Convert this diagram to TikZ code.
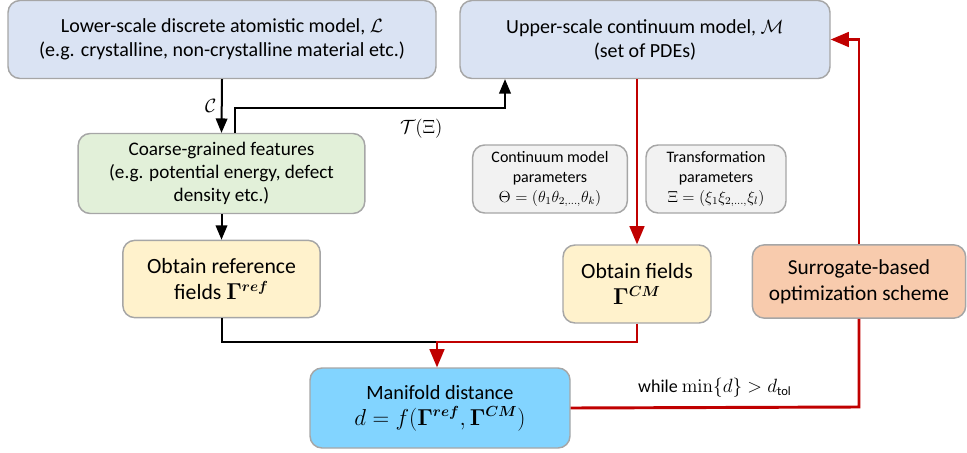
\documentclass[tikz,border=0pt]{standalone}
\usepackage{amsmath}
\usepackage[no-math]{fontspec}
\setmainfont{Carlito}
\usetikzlibrary{arrows}
\definecolor{modelblue}{HTML}{DAE3F3}
\definecolor{featgreen}{HTML}{E2F0D9}
\definecolor{fieldyellow}{HTML}{FFF2CC}
\definecolor{paramgray}{HTML}{F2F2F2}
\definecolor{surrorange}{HTML}{F8CBAD}
\definecolor{distblue}{HTML}{82D4FF}
\definecolor{loopred}{HTML}{C00000}
\definecolor{edgegray}{HTML}{A6A6A6}

\begin{document}
\begin{tikzpicture}[x=0.75pt,y=-0.75pt,>=triangle 45,
    box/.style={draw=edgegray,line width=1.1pt,rounded corners=9pt,align=center,inner sep=2pt,
        font=\fontsize{15}{18}\selectfont},
    parambox/.style={box,fill=paramgray,minimum width=116pt,minimum height=51pt,
        font=\fontsize{12}{15}\selectfont},
    link/.style={->,line width=1.5pt},
    redlink/.style={->,line width=2.2pt,color=loopred}]
    \useasboundingbox (0,0) rectangle (967,453);
    % models
    \node[box,fill=modelblue,minimum width=321pt,minimum height=58.5pt](lower)at(222, 39.5){Lower-scale discrete atomistic model, $\mathcal{L}$\\(e.g. crystalline, non-crystalline material etc.)};
    \node[box,fill=modelblue,minimum width=277.5pt,minimum height=58.5pt](upper)at(645, 39.5){Upper-scale continuum model, $\mathcal{M}$\\(set of PDEs)};
    % features and fields
    \node[box,fill=featgreen,minimum width=215pt,minimum height=60pt,font=\fontsize{14.4}{17}\selectfont](coarse)at(221.5, 173.5){Coarse-grained features\\(e.g. potential energy, defect\\density etc.)};
    \node[box,fill=fieldyellow,minimum width=148pt,minimum height=58pt,font=\fontsize{16.3}{19.5}\selectfont](reffields)at(221.5, 279){Obtain reference\\fields $\mathbf{\Gamma}^{\boldsymbol{ref}}$};
    \node[parambox](cmparams)at(550, 179){Continuum model\\parameters\\$\Theta=(\theta_1\theta_{2,\ldots,}\theta_k)$};
    \node[parambox,minimum width=105pt](trparams)at(716, 179){Transformation\\parameters\\$\Xi=(\xi_1\xi_{2,\ldots,}\xi_l)$};
    \node[box,fill=fieldyellow,minimum width=111pt,minimum height=58.5pt,font=\fontsize{16.3}{19.5}\selectfont](cmfields)at(637, 284){Obtain fields\\$\mathbf{\Gamma}^{\boldsymbol{CM}}$};
    \node[box,fill=surrorange,minimum width=160pt,minimum height=55pt,font=\fontsize{16}{19.5}\selectfont](surrogate)at(859, 281.5){Surrogate-based\\optimization scheme};
    \node[box,fill=distblue,minimum width=195pt,minimum height=60pt,font=\fontsize{15.2}{19.5}\selectfont](manifold)at(440, 408){Manifold distance\\{\fontsize{16}{19}\selectfont$d=f(\mathbf{\Gamma}^{\boldsymbol{ref}},\mathbf{\Gamma}^{\boldsymbol{CM}})$}};
    % turning points
    \coordinate(tleft)at(235, 108);
    \coordinate(tright)at(505, 108);
    \coordinate(join)at(437, 342);
    \coordinate(loopturn)at(859, 407);
    % black links
    \draw[link](lower.south) -- node[left,font=\fontsize{14}{17}\selectfont]{$\mathcal{C}$} (coarse.north);
    \draw[link](coarse.north -| tleft) -- (tleft) -- node[pos=0.69,below=4pt,font=\fontsize{14}{17}\selectfont]{$\mathcal{T}(\Xi)$} (tright) -- (upper.south -| tright);
    \draw[link](coarse) -- (reffields);
    \draw[line width=1.5pt](reffields.south) |- (join);
    % red links
    \draw[redlink](cmfields.north |- upper.south) -- (cmfields.north);
    \draw[redlink](cmfields.south) |- (join) -- (join |- manifold.north);
    \draw[line width=2.2pt,color=loopred](manifold.east) -- node[above=3pt,color=black,font=\fontsize{13.5}{16}\selectfont]{while $\min\{d\}>d_{\text{tol}}$} (loopturn) -- (surrogate.south);
    \draw[redlink](surrogate.north) |- (upper.east);
\end{tikzpicture}
\end{document}
